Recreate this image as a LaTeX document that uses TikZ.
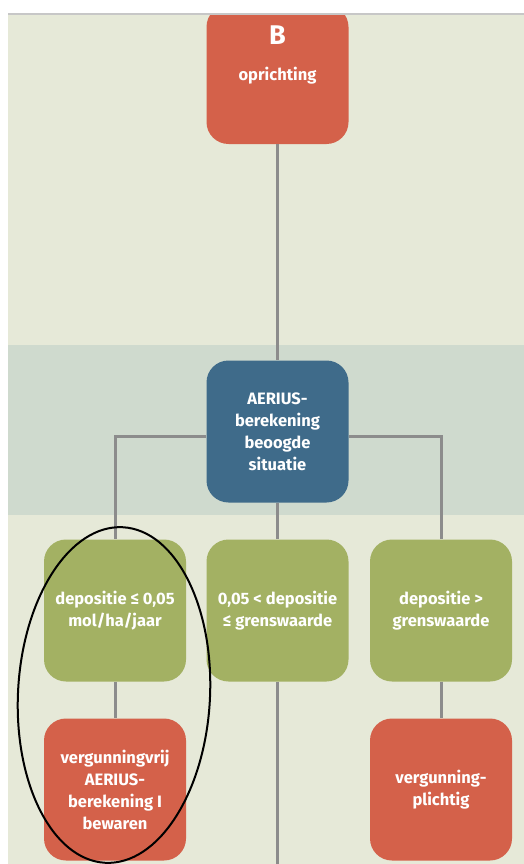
\documentclass[tikz,border=0pt]{standalone}
\usepackage{fontspec}
\setmainfont{Fira Sans}
\definecolor{bgc}{HTML}{E6E9D8}
\definecolor{bandc}{HTML}{CFDACE}
\definecolor{redc}{HTML}{D4614A}
\definecolor{bluec}{HTML}{3F6B8A}
\definecolor{greenc}{HTML}{A3B163}
\definecolor{linec}{HTML}{8C8C8C}
\begin{document}
\begin{tikzpicture}[x=1pt,y=-1pt,
  box/.style={rounded corners=22pt, minimum width=142pt, minimum height=142pt,
    text=white, font=\bfseries\fontsize{16.5}{22}\selectfont, align=center, inner sep=0pt},
  conn/.style={draw=linec, line width=3pt}]
\useasboundingbox (0,0) rectangle (524,864);
\clip (0,0) rectangle (524,864);
\fill[white] (0,0) rectangle (524,864);
\fill[bgc] (8,14) rectangle (524,864);
\fill[bandc] (8,345) rectangle (524,515);
% nodes
\node[box, fill=redc, minimum height=139pt] (b) at (277.5,74.5) {};
\node[text=white, font=\bfseries\fontsize{27}{27}\selectfont] (bl) at (277.5,35) {B};
\node[text=white, font=\bfseries\fontsize{16.5}{22}\selectfont] (bt) at (277.5,76) {oprichting};
\node[box, fill=bluec] (a) at (277.5,431.5) {AERIUS-\\berekening\\beoogde\\situatie};
\node[box, fill=greenc] (g1) at (115,610.5) {depositie ≤ 0,05\\mol/ha/jaar};
\node[box, fill=greenc] (g2) at (277.5,610.5) {0,05 < depositie\\≤ grenswaarde};
\node[box, fill=greenc] (g3) at (441,610.5) {depositie >\\grenswaarde};
\node[box, fill=redc] (r1) at (115,789.5) {vergunningvrij\\AERIUS-\\berekening I\\bewaren};
\node[box, fill=redc] (r3) at (441,789.5) {vergunning-\\plichtig};
\coordinate (end) at (277.5,870);
% connectors
\draw[conn] (b.south) -- (a.north);
\draw[conn] ([yshift=-4.5pt]a.west) -| (g1.north);
\draw[conn] ([yshift=-4.5pt]a.east) -| (g3.north);
\draw[conn] (a.south) -- (g2.north);
\draw[conn] (g1.south) -- (r1.north);
\draw[conn] (g3.south) -- (r3.north);
\draw[conn] (g2.south) -- (end);
% top strip
\fill[white] (0,0) rectangle (524,13);
\draw[draw=black!22, line width=1.2pt] (8,14) -- (524,14);
% hand-drawn ellipse
\draw[black, line width=2pt, rotate around={-3:(114,695)}] (114,695) ellipse [x radius=96, y radius=168];
\end{tikzpicture}
\end{document}
